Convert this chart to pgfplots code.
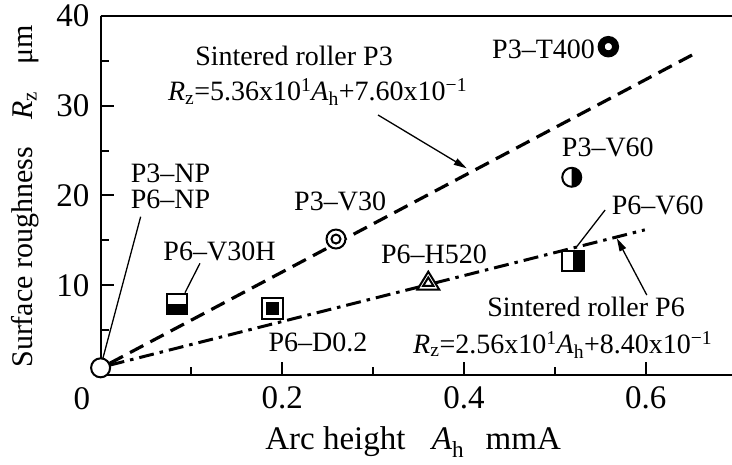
\documentclass[border=0pt]{standalone}
\usepackage{pgfplots}
\pgfplotsset{compat=1.18}
\usepackage{fontspec}
\setmainfont{Liberation Serif}
\usetikzlibrary{arrows.meta}

% Marks for the individual rollers
\pgfdeclareplotmark{thickring}{%
  \pgfsetlinewidth{7bp}%
  \pgfpathcircle{\pgfpointorigin}{7.2bp}\pgfusepathqstroke}
\pgfdeclareplotmark{halfcircle}{%
  \pgfsetfillcolor{white}%
  \pgfpathcircle{\pgfpointorigin}{9.5bp}\pgfusepathqfill
  \pgfsetfillcolor{black}%
  \pgfpathmoveto{\pgfpoint{0bp}{-9.5bp}}%
  \pgfpatharc{-90}{90}{9.5bp}\pgfpathclose\pgfusepathqfill
  \pgfsetlinewidth{2bp}%
  \pgfpathcircle{\pgfpointorigin}{9.5bp}\pgfusepathqstroke}
\pgfdeclareplotmark{doublecircle}{%
  \pgfsetfillcolor{white}\pgfsetlinewidth{2bp}%
  \pgfpathcircle{\pgfpointorigin}{9.5bp}\pgfusepath{fill,stroke}%
  \pgfpathcircle{\pgfpointorigin}{4.5bp}\pgfusepathqstroke}
\pgfdeclareplotmark{squarebottom}{%
  \pgfsetfillcolor{white}%
  \pgfpathrectangle{\pgfpoint{-10bp}{-10bp}}{\pgfpoint{20bp}{20bp}}\pgfusepathqfill
  \pgfsetfillcolor{black}%
  \pgfpathrectangle{\pgfpoint{-10bp}{-10bp}}{\pgfpoint{20bp}{10bp}}\pgfusepathqfill
  \pgfsetlinewidth{2bp}%
  \pgfpathrectangle{\pgfpoint{-10bp}{-10bp}}{\pgfpoint{20bp}{20bp}}\pgfusepathqstroke}
\pgfdeclareplotmark{squareright}{%
  \pgfsetfillcolor{white}%
  \pgfpathrectangle{\pgfpoint{-11bp}{-10bp}}{\pgfpoint{22bp}{20bp}}\pgfusepathqfill
  \pgfsetfillcolor{black}%
  \pgfpathrectangle{\pgfpoint{0bp}{-10bp}}{\pgfpoint{11bp}{20bp}}\pgfusepathqfill
  \pgfsetlinewidth{2bp}%
  \pgfpathrectangle{\pgfpoint{-11bp}{-10bp}}{\pgfpoint{22bp}{20bp}}\pgfusepathqstroke}
\pgfdeclareplotmark{doublesquare}{%
  \pgfsetfillcolor{white}\pgfsetlinewidth{2bp}%
  \pgfpathrectangle{\pgfpoint{-10.5bp}{-10.5bp}}{\pgfpoint{21bp}{21bp}}\pgfusepath{fill,stroke}%
  \pgfsetfillcolor{black}%
  \pgfpathrectangle{\pgfpoint{-6.3bp}{-6.3bp}}{\pgfpoint{12.6bp}{12.6bp}}\pgfusepathqfill}
\pgfdeclareplotmark{doubletriangle}{%
  \pgfsetfillcolor{white}\pgfsetlinewidth{2bp}\pgfsetmiterjoin
  \pgfpathmoveto{\pgfpoint{-11bp}{-9bp}}\pgfpathlineto{\pgfpoint{11bp}{-9bp}}%
  \pgfpathlineto{\pgfpoint{0bp}{9bp}}\pgfpathclose\pgfusepath{fill,stroke}%
  \pgfpathmoveto{\pgfpoint{-5.2bp}{-5.3bp}}\pgfpathlineto{\pgfpoint{5.2bp}{-5.3bp}}%
  \pgfpathlineto{\pgfpoint{0bp}{3.2bp}}\pgfpathclose\pgfusepathqstroke}

\begin{document}
\fontsize{28bp}{34bp}\selectfont
\begin{tikzpicture}[lbl/.style={inner sep=0pt},
  lead/.style={line width=1.3bp},
  arr/.style={line width=1.3bp,-{Triangle[length=13bp,width=7bp]}}]
\begin{axis}[
  scale only axis, width=631.4bp, height=359bp,
  xmin=0, xmax=0.695, ymin=0, ymax=40,
  axis x line=box, axis y line=left,
  axis line style={-, line width=2bp},
  every outer x axis line/.append style={-},
  every outer y axis line/.append style={-},
  every inner x axis line/.append style={-},
  every inner y axis line/.append style={-},
  xtick pos=left, ytick pos=left, tick align=inside,
  xtick={0.2,0.4,0.6}, xticklabels={0.2,0.4,0.6},
  minor xtick={0.1,0.3,0.5},
  ytick={10,20,30,40}, minor ytick={5,15,25,35},
  major tick length=13bp, minor tick length=8bp,
  tick style={line width=2bp, black},
  /pgf/number format/assume math mode=true,
  tick label style={font=\fontsize{33bp}{38bp}\selectfont},
  xticklabel style={inner sep=0pt, yshift=-11.7bp},
  yticklabel style={inner sep=0pt, xshift=-11bp},
  xlabel={Arc height\hspace{0.8em}\textit{A}\textsubscript{h}\hspace{0.65em}mmA},
  ylabel={Surface roughness\hspace{0.9em}\textit{R}\textsubscript{z}\hspace{0.9em}μm},
  xlabel style={at={(axis description cs:0.495,-0.2089)}, anchor=base, inner sep=0pt,
    font=\fontsize{33bp}{38bp}\selectfont},
  ylabel style={at={(axis description cs:-0.1071,0.4972)}, anchor=base, inner sep=0pt,
    font=\fontsize{30bp}{36bp}\selectfont},
  clip=false,
]
% regression lines
\addplot[black, line width=3.2bp, dash pattern=on 15bp off 8bp]
  coordinates {(0.01,1.30) (0.651,35.65)};
\addplot[black, line width=3bp, dash pattern=on 15bp off 6bp on 3.5bp off 6bp]
  coordinates {(0.01,1.10) (0.599,16.17)};

% leader lines and arrows
\draw[lead] (axis cs:0.0441,17.64) -- (axis cs:0.0026,1.89);
\draw[lead] (axis cs:0.1094,12.45) -- (axis cs:0.0929,9.17);
\draw[lead] (axis cs:0.5553,18.38) -- (axis cs:0.5241,14.30);
\draw[arr] (axis cs:0.3054,28.97) -- (axis cs:0.4030,23.03);
\draw[arr] (axis cs:0.6012,8.91) -- (axis cs:0.5682,15.23);

% measured rollers
\addplot[only marks, black, mark=*, mark size=9.5bp,
  mark options={fill=white, line width=2bp}] coordinates {(0,0.8)};
\addplot[only marks, black, mark=thickring] coordinates {(0.5589,36.58)};
\addplot[only marks, black, mark=halfcircle] coordinates {(0.5186,22.03)};
\addplot[only marks, black, mark=doublecircle] coordinates {(0.2591,15.15)};
\addplot[only marks, black, mark=squarebottom] coordinates {(0.0844,7.91)};
\addplot[only marks, black, mark=doublesquare] coordinates {(0.1890,7.43)};
\addplot[only marks, black, mark=doubletriangle] coordinates {(0.3607,10.51)};
\addplot[only marks, black, mark=squareright] coordinates {(0.5200,12.72)};

% labels
\node[lbl, anchor=base] at (axis cs:0.2129,34.54) {Sintered roller P3};
\node[lbl, anchor=base] at (axis cs:0.2388,30.56)
  {\textit{R}\textsubscript{z}=5.36x10\textsuperscript{1}\textit{A}\textsubscript{h}+7.60x10\textsuperscript{−1}};
\node[lbl, anchor=base east] at (axis cs:0.5443,35.29) {P3\textendash T400};
\node[lbl, anchor=base west] at (axis cs:0.5076,24.32) {P3\textendash V60};
\node[lbl, anchor=base west] at (axis cs:0.5626,17.83) {P6\textendash V60};
\node[lbl, anchor=base east] at (axis cs:0.4254,12.45) {P6\textendash H520};
\node[lbl, anchor=base west] at (axis cs:0.4254,6.50) {Sintered roller P6};
\node[lbl, anchor=base west] at (axis cs:0.3439,2.42)
  {\textit{R}\textsubscript{z}=2.56x10\textsuperscript{1}\textit{A}\textsubscript{h}+8.40x10\textsuperscript{−1}};
\node[lbl, anchor=base west] at (axis cs:0.2129,18.38) {P3\textendash V30};
\node[lbl, anchor=base west] at (axis cs:0.0690,12.81) {P6\textendash V30H};
\node[lbl, anchor=base west] at (axis cs:0.1846,2.60) {P6\textendash D0.2};
\node[lbl, anchor=base west] at (axis cs:0.0331,21.43) {P3\textendash NP};
\node[lbl, anchor=base west] at (axis cs:0.0331,18.57) {P6\textendash NP};
\node[lbl, anchor=base, font=\fontsize{33bp}{38bp}\selectfont]
  at (axis cs:-0.0205,-3.79) {0};
\end{axis}
\pgfresetboundingbox
\path[use as bounding box] (-100.6bp,-90bp) rectangle (631.4bp,375bp);
\end{tikzpicture}
\end{document}
